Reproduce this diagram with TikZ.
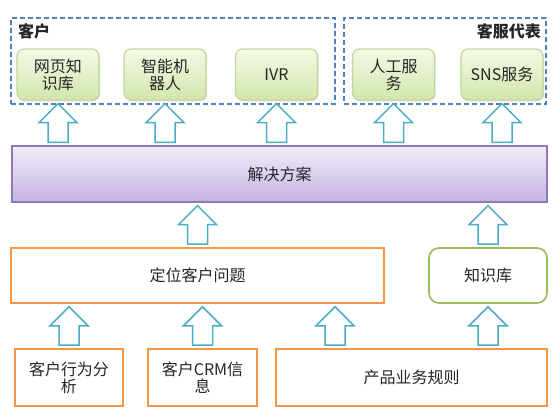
\documentclass[tikz,border=0pt]{standalone}
\usepackage{fontspec}
\setmainfont{Noto Sans CJK SC}
\usetikzlibrary{calc,shadows}

\definecolor{dashblue}{HTML}{4F81BD}
\definecolor{arrowblue}{HTML}{4BACC6}
\definecolor{boxorange}{HTML}{F79646}
\definecolor{lightgreen}{HTML}{C3D69B}
\definecolor{greentop}{HTML}{F4F9E6}
\definecolor{greenbot}{HTML}{D3E6AC}
\definecolor{kbgreen}{HTML}{9BBB59}
\definecolor{purpleline}{HTML}{8F7AB8}
\definecolor{purpletop}{HTML}{F2EDFA}
\definecolor{purplebot}{HTML}{C4B3E2}
\definecolor{txtgray}{HTML}{262626}

\begin{document}
\begin{tikzpicture}[x=1pt,y=-1pt,
    font=\fontsize{16pt}{17pt}\selectfont,
    hollow/.style={to path={let \p1=(\tikztostart), \p2=(\tikztotarget) in
      (\x1-10pt,\y1+3pt) -- (\x1-10pt,\y2-22pt) -- (\x1-19pt,\y2-22pt) --
      (\x1,\y2-3pt) -- (\x1+19pt,\y2-22pt) -- (\x1+10pt,\y2-22pt) --
      (\x1+10pt,\y1+3pt) -- cycle}}]

  \useasboundingbox (0,0) rectangle (560,417);

  % groups
  \begin{scope}[every node/.style={draw=dashblue, dashed, dash pattern=on 5pt off 3pt,
      line width=1.5pt, minimum height=86pt, inner sep=0pt}]
    \node (cust)  at (173,61) [minimum width=324pt] {};
    \node (agent) at (445,61) [minimum width=202pt] {};
  \end{scope}

  \begin{scope}[every node/.style={text=txtgray, inner sep=0pt, font=\fontsize{16pt}{17pt}\selectfont\bfseries}]
    \node (custlabel)  at (18,31)  [anchor=west] {客户};
    \node (agentlabel) at (541,31) [anchor=east] {客服代表};
  \end{scope}

  % channels
  \begin{scope}[every node/.style={draw=lightgreen, line width=1.2pt, rounded corners=7pt,
      top color=greentop, bottom color=greenbot, text=txtgray, align=center,
      minimum width=82pt, minimum height=51pt, inner sep=0pt,
      drop shadow={shadow xshift=1.2pt, shadow yshift=-1.5pt, opacity=.25}}]
    \node (web)   at (58,74.5)    {网页知\\识库};
    \node (robot) at (165,74.5)   {智能机\\器人};
    \node (ivr)   at (276.5,74.5) {IVR};
    \node (human) at (393.5,74.5) {人工服\\务};
    \node (sns)   at (502,74.5)   {SNS服务};
  \end{scope}

  % solution
  \node (sol) at (279.5,174) [draw=purpleline, line width=1.2pt, top color=purpletop,
    bottom color=purplebot, text=txtgray, minimum width=535pt, minimum height=56pt,
    drop shadow={shadow xshift=1.2pt, shadow yshift=-1.5pt, opacity=.25}] {解决方案};

  % sources
  \begin{scope}[every node/.style={draw=boxorange, line width=1.6pt, fill=white,
      text=txtgray, align=center, inner sep=0pt, minimum height=57pt}]
    \node (loc)  at (197.5,275.5) [minimum width=373pt, minimum height=55pt] {定位客户问题};
    \node (beh)  at (69,377.5)    [minimum width=108pt] {客户行为分\\析};
    \node (crm)  at (202.5,377.5) [minimum width=109pt] {客户CRM信\\息};
    \node (rule) at (411.5,377.5) [minimum width=271pt] {产品业务规则};
  \end{scope}

  \node (kb) at (488,275.5) [draw=kbgreen, line width=1.6pt, rounded corners=10pt,
    fill=white, text=txtgray, minimum width=118pt, minimum height=55pt] {知识库};

  \coordinate (r3) at (335,0);

  \begin{scope}[every edge/.style={draw=arrowblue, fill=white, line width=1.5pt, hollow}]
    \path (web.south |- sol.north)   edge (web.south);
    \path (robot.south |- sol.north) edge (robot.south);
    \path (ivr.south |- sol.north)   edge (ivr.south);
    \path (human.south |- sol.north) edge (human.south);
    \path (sns.south |- sol.north)   edge (sns.south);
    \path (loc.north) edge (loc.north |- sol.south);
    \path (kb.north)  edge (kb.north |- sol.south);
    \path (beh.north) edge (beh.north |- loc.south);
    \path (crm.north) edge (crm.north |- loc.south);
    \path (r3 |- rule.north)  edge (r3 |- loc.south);
    \path (kb.south |- rule.north) edge (kb.south);
  \end{scope}

\end{tikzpicture}
\end{document}
